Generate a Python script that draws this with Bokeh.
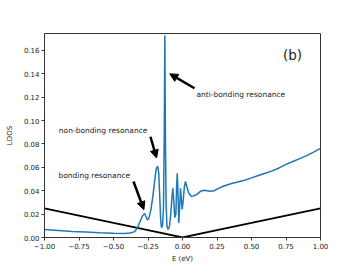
from bokeh.plotting import figure
from bokeh.models import Range1d, FixedTicker, CustomJSTickFormatter, Label, Arrow, NormalHead
from bokeh.embed import file_html
from bokeh.resources import INLINE

# LDOS curve (blue)
E_ldos = [-1.00, -0.90, -0.80, -0.70, -0.60, -0.50, -0.42, -0.38, -0.35, -0.33, -0.31,
          -0.29, -0.275, -0.265, -0.255, -0.245, -0.23, -0.215, -0.20, -0.19, -0.18,
          -0.172, -0.165, -0.158, -0.152, -0.145, -0.138, -0.132, -0.128, -0.124,
          -0.119, -0.113, -0.105, -0.095, -0.085, -0.076, -0.070, -0.064, -0.056,
          -0.048, -0.043, -0.038, -0.033, -0.027, -0.021, -0.014, -0.008, -0.002,
          0.006, 0.014, 0.022, 0.030, 0.045, 0.065, 0.10, 0.13, 0.16, 0.20, 0.23,
          0.26, 0.30, 0.35, 0.40, 0.45, 0.50, 0.55, 0.60, 0.65, 0.70, 0.75, 0.80,
          0.85, 0.90, 0.95, 1.00]
ldos = [0.0068, 0.0060, 0.0052, 0.0046, 0.0040, 0.0036, 0.0035, 0.0038, 0.0048, 0.0075, 0.0130,
        0.0185, 0.0205, 0.0180, 0.0150, 0.0160, 0.0230, 0.0350, 0.0500, 0.0590, 0.0610,
        0.0550, 0.0350, 0.0150, 0.0085, 0.0100, 0.0250, 0.0900, 0.1730, 0.0900,
        0.0300, 0.0100, 0.0070, 0.0090, 0.0200, 0.0350, 0.0420, 0.0330, 0.0170,
        0.0200, 0.0420, 0.0550, 0.0400, 0.0125, 0.0250, 0.0420, 0.0320, 0.0240,
        0.0330, 0.0440, 0.0480, 0.0440, 0.0380, 0.0350, 0.0365, 0.0395, 0.0405, 0.0395, 0.0400,
        0.0420, 0.0440, 0.0460, 0.0475, 0.0490, 0.0510, 0.0530, 0.0550, 0.0570, 0.0595, 0.0625, 0.0650,
        0.0675, 0.0700, 0.0730, 0.0763]

# Reference (black) V-shaped curve
E_ref = [-1.00, -0.75, -0.50, -0.25, 0.00, 0.25, 0.50, 0.75, 1.00]
ldos_ref = [0.0250, 0.0188, 0.0125, 0.0063, 0.0000, 0.0063, 0.0125, 0.0188, 0.0250]

x_ticks = [-1.00, -0.75, -0.50, -0.25, 0.00, 0.25, 0.50, 0.75, 1.00]
y_ticks = [0.00, 0.02, 0.04, 0.06, 0.08, 0.10, 0.12, 0.14, 0.16]

# annotations: label text, label anchor, arrow tail, arrow head (data units)
ann_text = ["anti-bonding resonance", "non-bonding resonance", "bonding resonance"]
ann_text_x = [0.101, -0.896, -0.899]
ann_text_y = [0.1226, 0.0919, 0.0528]
arrow_x_start = [0.087, -0.232, -0.355]
arrow_y_start = [0.1277, 0.0862, 0.0479]
arrow_x_end = [-0.092, -0.188, -0.280]
arrow_y_end = [0.1400, 0.0680, 0.0238]
panel_label = "(b)"
panel_x, panel_y = 0.797, 0.1557

FONT = "DejaVu Sans"

p = figure(width=348, height=265, output_backend="svg", toolbar_location=None,
           x_range=Range1d(-1, 1), y_range=Range1d(0, 0.1745),
           min_border_left=44, min_border_right=28, min_border_top=33, min_border_bottom=27)
p.background_fill_color = "white"
p.border_fill_color = "white"
p.outline_line_color = "#333333"
p.outline_line_width = 1
p.xgrid.visible = False
p.ygrid.visible = False

p.line(E_ref, ldos_ref, line_color="black", line_width=1.8)
p.line(E_ldos, ldos, line_color="#1f77b4", line_width=1.5)

for ax in (p.xaxis[0], p.yaxis[0]):
    ax.axis_line_color = "#333333"
    ax.major_tick_line_color = "#333333"
    ax.major_tick_in = 0
    ax.major_tick_out = 3
    ax.minor_tick_line_color = None
    ax.major_label_text_font = FONT
    ax.major_label_text_font_size = "7px"
    ax.major_label_text_color = "#222222"
    ax.axis_label_text_font = FONT
    ax.axis_label_text_font_size = "7px"
    ax.axis_label_text_font_style = "normal"
    ax.axis_label_text_color = "#222222"
    ax.major_label_standoff = 2

p.xaxis.ticker = FixedTicker(ticks=x_ticks)
p.yaxis.ticker = FixedTicker(ticks=y_ticks)
p.xaxis.formatter = CustomJSTickFormatter(code="return tick.toFixed(2).replace('-', '\u2212');")
p.yaxis.formatter = CustomJSTickFormatter(code="return tick.toFixed(2);")
p.xaxis.axis_label = "E (eV)"
p.yaxis.axis_label = "LDOS"
p.xaxis.axis_label_standoff = 3
p.yaxis.axis_label_standoff = 7

for t, tx, ty in zip(ann_text, ann_text_x, ann_text_y):
    p.add_layout(Label(x=tx, y=ty, text=t, text_font=FONT, text_font_size="7.5px",
                       text_color="#222222", text_baseline="middle", text_align="left"))

for xs, ys, xe, ye in zip(arrow_x_start, arrow_y_start, arrow_x_end, arrow_y_end):
    p.add_layout(Arrow(x_start=xs, y_start=ys, x_end=xe, y_end=ye, line_width=2.5,
                       line_color="black",
                       end=NormalHead(size=8, fill_color="black", line_color="black", line_width=1)))

p.add_layout(Label(x=panel_x, y=panel_y, text=panel_label, text_font=FONT, text_font_size="13.5px",
                   text_color="#222222", text_baseline="middle", text_align="center"))

open("out.html", "w").write(file_html(p, INLINE))
